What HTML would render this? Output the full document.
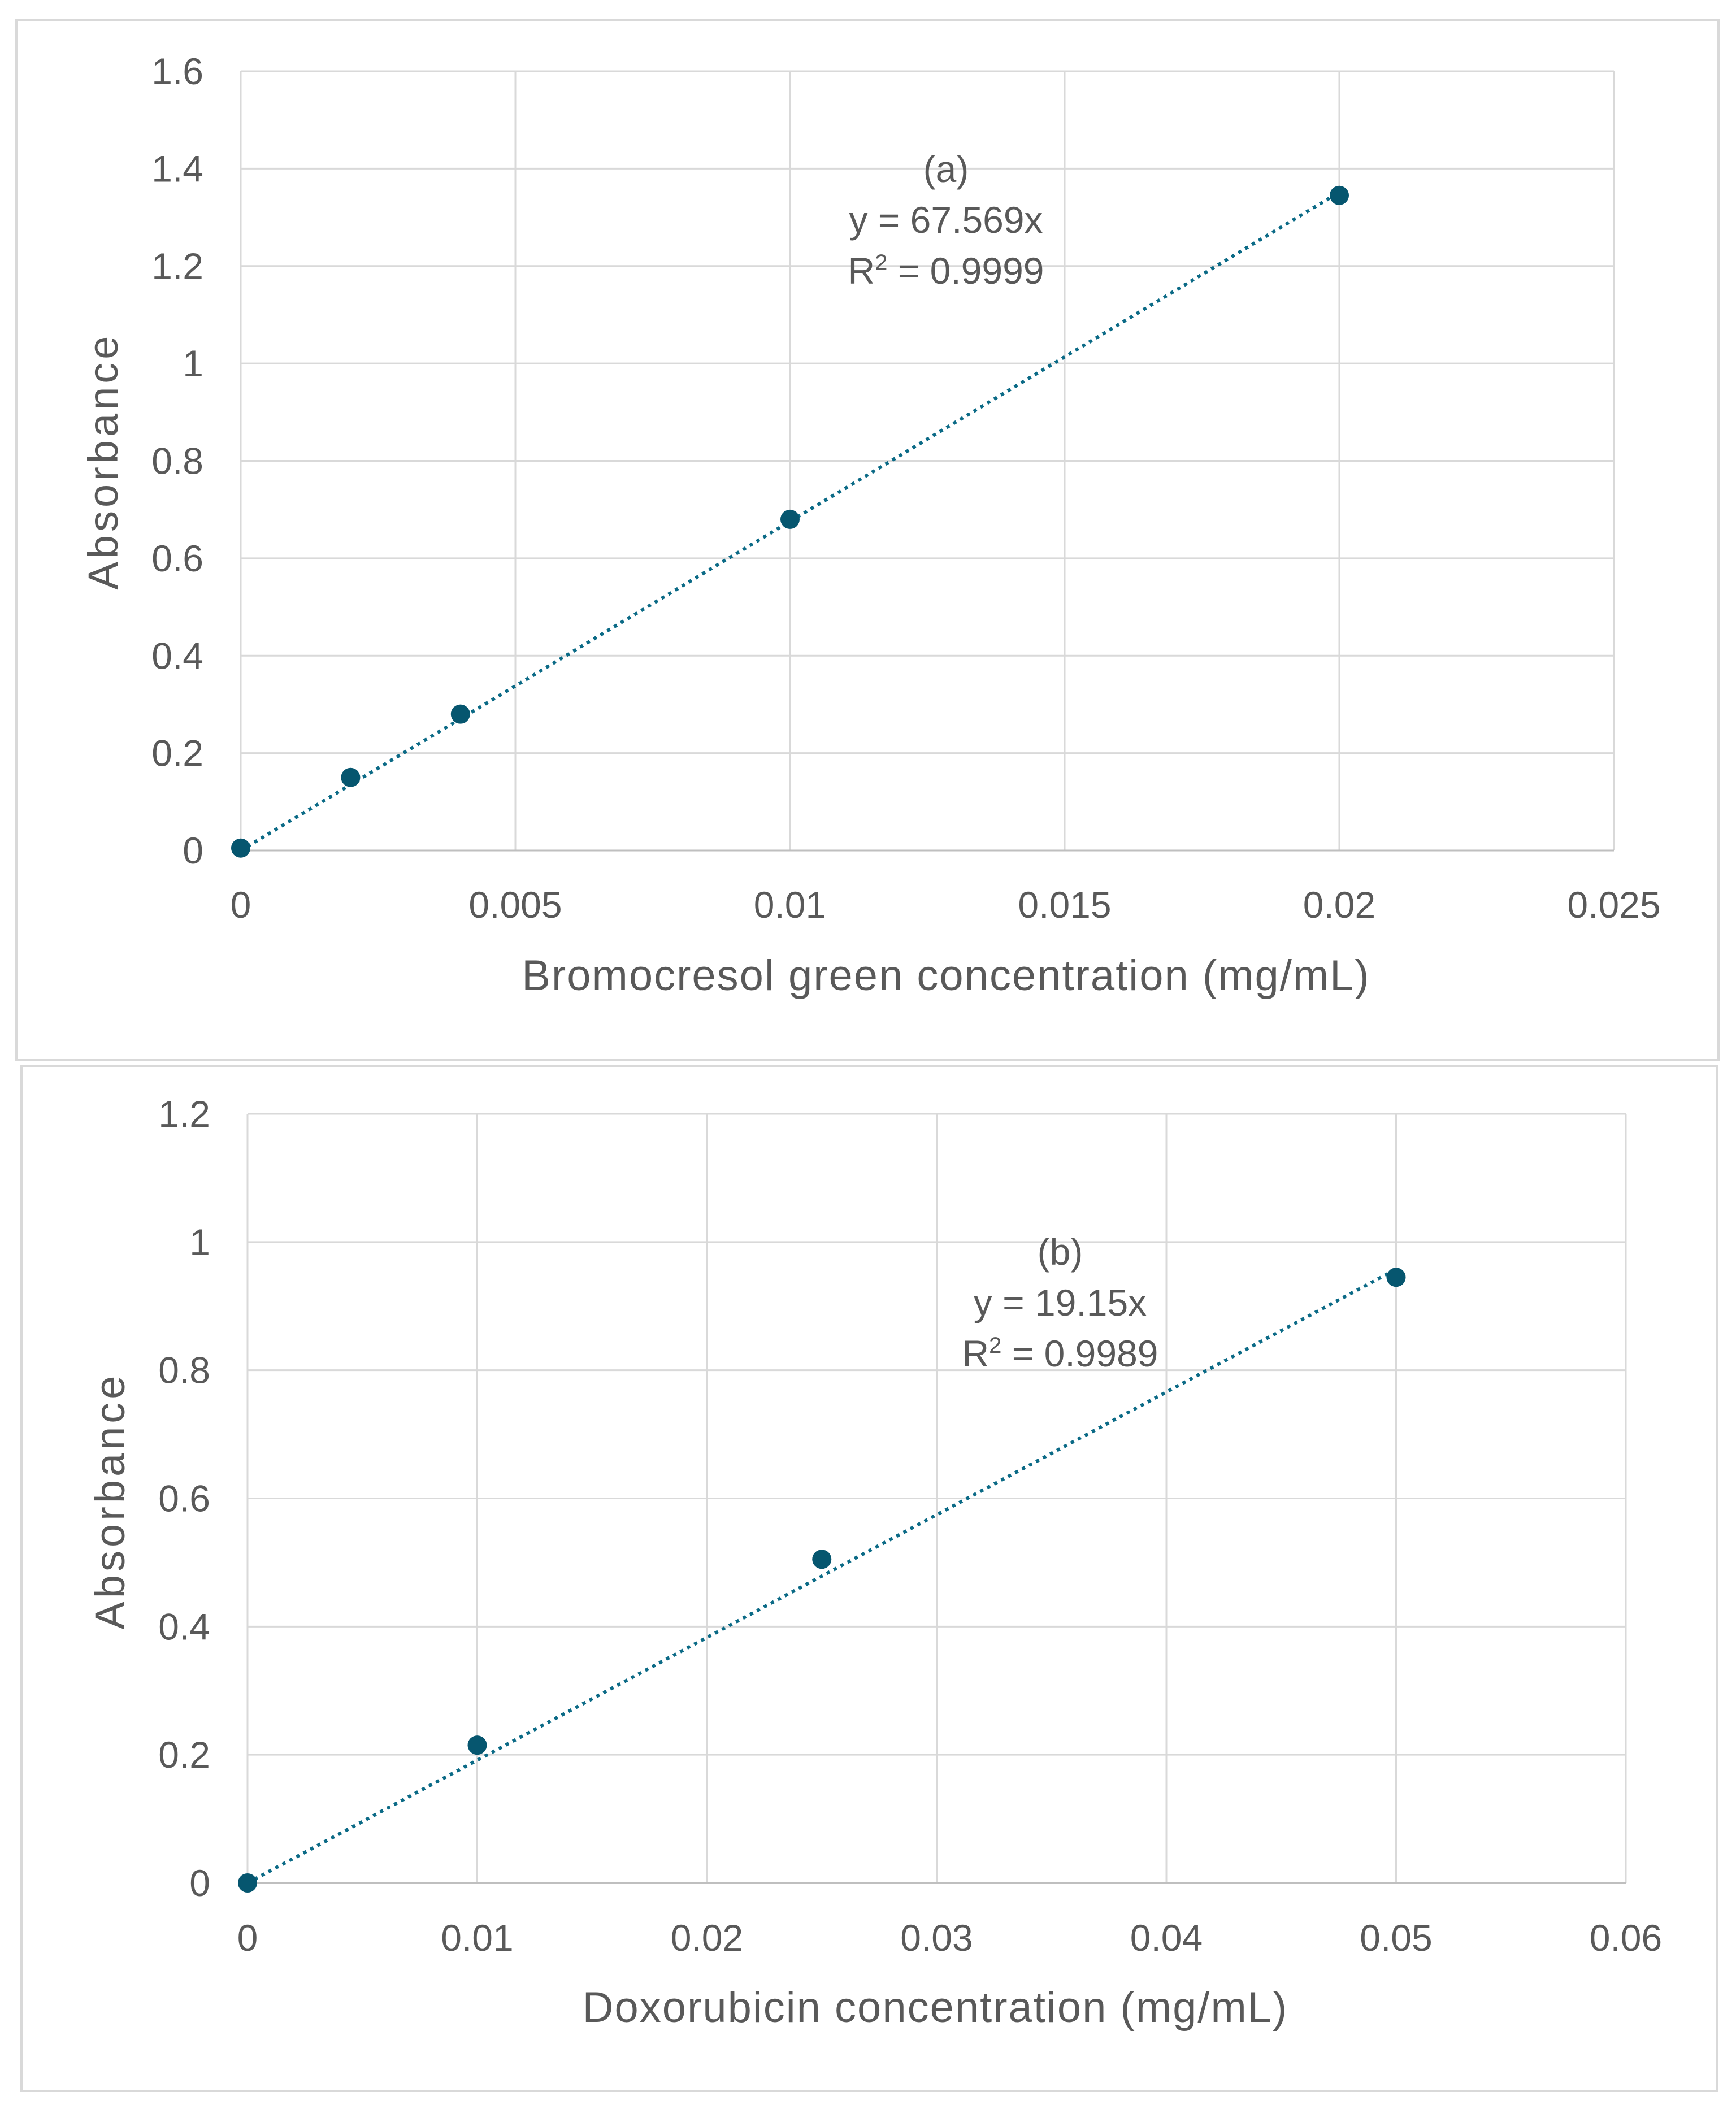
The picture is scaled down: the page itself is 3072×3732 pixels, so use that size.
<!DOCTYPE html>
<html><head><meta charset="utf-8"><style>
html,body{margin:0;padding:0;background:#fff}
svg{display:block}
text{font-family:"Liberation Sans",sans-serif;fill:#595959}
</style></head><body>
<svg id="fig" width="3072" height="3732" viewBox="0 0 3072 3732"></svg>
<script>
const xValsA=[0,0.002,0.004,0.01,0.02];
const yValsA=[0.005,0.15,0.28,0.68,1.345];
const xTicksA=[0,0.005,0.01,0.015,0.02,0.025];
const xTickLabelsA=["0","0.005","0.01","0.015","0.02","0.025"];
const yTicksA=[0,0.2,0.4,0.6,0.8,1,1.2,1.4,1.6];
const yTickLabelsA=["0","0.2","0.4","0.6","0.8","1","1.2","1.4","1.6"];
const slopeA=[67.569];
const xValsB=[0,0.01,0.025,0.05];
const yValsB=[0,0.215,0.505,0.945];
const xTicksB=[0,0.01,0.02,0.03,0.04,0.05,0.06];
const xTickLabelsB=["0","0.01","0.02","0.03","0.04","0.05","0.06"];
const yTicksB=[0,0.2,0.4,0.6,0.8,1,1.2];
const yTickLabelsB=["0","0.2","0.4","0.6","0.8","1","1.2"];
const slopeB=[19.15];

const NS="http://www.w3.org/2000/svg";
const svg=document.getElementById('fig');
function mk(tag,attrs,parent,txt){const e=document.createElementNS(NS,tag);for(const k in attrs)e.setAttribute(k,attrs[k]);if(txt!==undefined)e.textContent=txt;(parent||svg).appendChild(e);return e;}

function chart(o){
  const g=mk('g',{});
  
  
  const fr=mk('rect',{x:o.frame[0],y:o.frame[1],width:o.frame[2],height:o.frame[3],fill:'#fff',stroke:'#d9d9d9','stroke-width':4},g);
  
  
  const [L,R,T,B]=o.plot;
  const xs=v=>L+(v-o.xmin)/(o.xmax-o.xmin)*(R-L);
  const ys=v=>B-(v-o.ymin)/(o.ymax-o.ymin)*(B-T);
  o.xt.forEach((v,i)=>{
    const l=mk('line',{x1:xs(v),x2:xs(v),y1:T,y2:B,stroke:'#d9d9d9','stroke-width':3},g);
    
    
    const t=mk('text',{x:xs(v),y:o.xLabY,'text-anchor':'middle','font-size':66},g,o.xl[i]);
    
    
  });
  o.yt.forEach((v,i)=>{
    const l=mk('line',{x1:L,x2:R,y1:ys(v),y2:ys(v),stroke:'#d9d9d9','stroke-width':3},g);
    
    
    const t=mk('text',{x:o.yLabX,y:ys(v)+23,'text-anchor':'end','font-size':66},g,o.yl[i]);
    
    
  });
  const ax=mk('line',{x1:L,x2:R,y1:B,y2:B,stroke:'#bfbfbf','stroke-width':3},g);
  
  
  const xEnd=o.xv[o.xv.length-1];
  const tl=mk('line',{x1:xs(0),y1:ys(0),x2:xs(xEnd),y2:ys(o.slope[0]*xEnd),stroke:'#0b6a86','stroke-width':6,'stroke-dasharray':'6 8'},g);
  
  
  o.xv.forEach((v,i)=>{
    const c=mk('circle',{cx:xs(v),cy:ys(o.yv[i]),r:17,fill:'#06566f'},g);
    
    
  });
  const xt=mk('text',{x:o.xTitle[0],y:o.xTitle[1],'text-anchor':'middle','font-size':76,'letter-spacing':2},g,o.xTitleText);
  
  
  const yt=mk('text',{x:0,y:0,'text-anchor':'middle','font-size':74,'letter-spacing':6,transform:`translate(${o.yTitle[0]},${o.yTitle[1]}) rotate(-90)`},g,'Absorbance');
  
  
  const a1=mk('text',{x:o.ann[0],y:o.ann[1],'text-anchor':'middle','font-size':66},g,o.label);
  
  
  const a2=mk('text',{x:o.ann[0],y:o.ann[1]+90,'text-anchor':'middle','font-size':66},g,'y = '+o.slope[0]+'x');
  
  
  const a3=mk('text',{x:o.ann[0],y:o.ann[1]+180,'text-anchor':'middle','font-size':66},g);
  
  
  mk('tspan',{},a3,'R');
  mk('tspan',{dy:-24,'font-size':40},a3,'2');
  mk('tspan',{dy:24},a3,' = '+o.r2);
}

chart({name:'chart-a',frame:[29,36,3012,1840],plot:[426,2856,126,1505],xmin:0,xmax:0.025,ymin:0,ymax:1.6,
  xt:xTicksA,xl:xTickLabelsA,yt:yTicksA,yl:yTickLabelsA,xv:xValsA,yv:yValsA,slope:slopeA,
  xLabY:1624,yLabX:360,xTitle:[1674,1752],xTitleText:'Bromocresol green concentration (mg/mL)',
  yTitle:[208,816],ann:[1674,322],label:'(a)',r2:'0.9999'});
chart({name:'chart-b',frame:[38,1886,3001,1814],plot:[438,2877,1971,3332],xmin:0,xmax:0.06,ymin:0,ymax:1.2,
  xt:xTicksB,xl:xTickLabelsB,yt:yTicksB,yl:yTickLabelsB,xv:xValsB,yv:yValsB,slope:slopeB,
  xLabY:3452,yLabX:372,xTitle:[1655,3578],xTitleText:'Doxorubicin concentration (mg/mL)',
  yTitle:[220,2656],ann:[1876,2238],label:'(b)',r2:'0.9989'});
</script>
</body></html>
